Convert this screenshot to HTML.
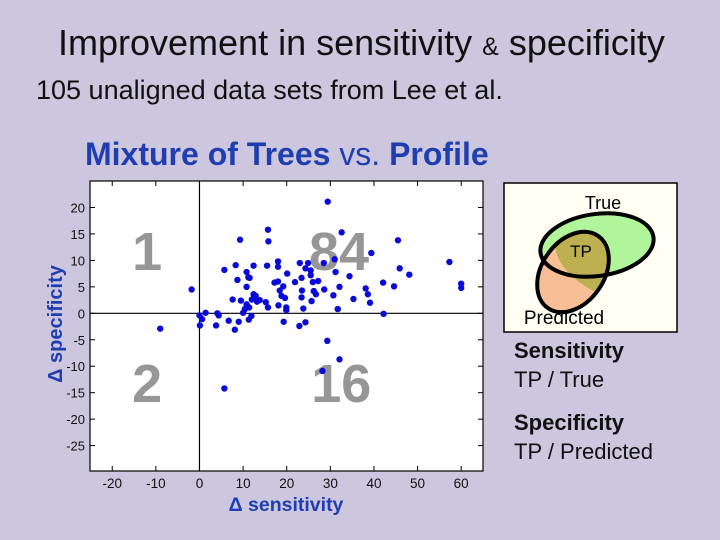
<!DOCTYPE html>
<html><head><meta charset="utf-8"><style>
body{margin:0;background:#cdc6df;}
#root{position:relative;width:720px;height:540px;background:#cdc6df;font-family:"Liberation Sans",sans-serif;overflow:hidden}
.t{position:absolute;white-space:nowrap}
</style></head><body>
<div id="root">
<div class="t" style="left:58px;top:22px;font-size:36px;color:#111">Improvement in sensitivity <span style="font-size:25px">&amp;</span> specificity</div>
<div class="t" style="left:36px;top:75px;font-size:27px;color:#111">105 unaligned data sets from Lee et al.</div>
<div class="t" style="left:85px;top:136px;font-size:32px;color:#1f3fb0;font-weight:bold">Mixture of Trees <span style="font-weight:normal">vs.</span> Profile</div>
<svg id="chart" width="720" height="540" style="position:absolute;left:0;top:0">
<g id="plot"></g>
<text transform="translate(62,324) rotate(-90)" text-anchor="middle" font-size="20" font-weight="bold" fill="#1f3fb0" font-family="Liberation Sans">Δ specificity</text>
<text x="286" y="511" text-anchor="middle" font-size="19.5" font-weight="bold" fill="#1f3fb0" font-family="Liberation Sans">Δ sensitivity</text>
</svg>
<svg width="720" height="540" style="position:absolute;left:0;top:0">
<defs><clipPath id="cp"><ellipse cx="597" cy="245" rx="57" ry="31" transform="rotate(-8 597 245)"/></clipPath></defs>
<rect x="504" y="183" width="173" height="149" fill="#fffff4" stroke="#000" stroke-width="1.5"/>
<ellipse cx="597" cy="245" rx="57" ry="31" transform="rotate(-8 597 245)" fill="#b0f59a"/>
<ellipse cx="573" cy="272" rx="31" ry="44" transform="rotate(35 573 272)" fill="#f8bf96"/>
<ellipse cx="573" cy="272" rx="31" ry="44" transform="rotate(35 573 272)" fill="#bdb050" clip-path="url(#cp)"/>
<ellipse cx="597" cy="245" rx="57" ry="31" transform="rotate(-8 597 245)" fill="none" stroke="#000" stroke-width="4"/>
<ellipse cx="573" cy="272" rx="31" ry="44" transform="rotate(35 573 272)" fill="none" stroke="#000" stroke-width="4"/>
<text x="603" y="209" text-anchor="middle" font-size="18" font-family="Liberation Sans">True</text>
<text x="581" y="257" text-anchor="middle" font-size="17" font-family="Liberation Sans">TP</text>
<text x="564" y="324" text-anchor="middle" font-size="19" font-family="Liberation Sans">Predicted</text>
</svg>
<div class="t" style="left:514px;top:336px;font-size:22px;line-height:29px;color:#111"><b>Sensitivity</b><br>TP / True</div>
<div class="t" style="left:514px;top:408px;font-size:22px;line-height:29px;color:#111"><b>Specificity</b><br>TP / Predicted</div>
</div>
<script>
const xTicks=[-20,-10,0,10,20,30,40,50,60];
const yTicks=[20,15,10,5,0,-5,-10,-15,-20,-25];
const quadLabels=["1","84","2","16"];
const quadX=[-12,32,-12,32.5];
const quadY=[12,12,-13,-13];
const sensX=[29.4,15.7,32.6,9.3,15.8,45.5,39.4,31,28.5,57.3,5.7,8.3,12.4,15.5,18,18,23,24.9,24.3,25.5,25.5,20.1,10.8,11.2,11.5,8.7,31.2,34.4,45.9,48.1,42.1,44.6,60,60,21.9,23.4,17.2,18,19.2,18.4,18.8,19.6,23.5,23.4,26,27.2,26.2,26.7,25.7,28.6,32.1,30.7,38.1,38.6,35.3,39.1,31.7,42.2,10.8,7.6,9.5,12.4,12,13.8,15.2,15.7,18.1,19.9,19.9,10.8,10.4,11.4,10,11.9,11.3,23.8,1.4,4.1,4.4,0,0.6,0.1,3.8,6.7,9,8.1,19.3,22.9,24.3,-9,-1.8,5.7,29.3,32.1,28.2,12.6,13.2,12.9];
const specY=[21.1,15.8,15.3,13.9,13.6,13.8,11.4,10.2,9.5,9.7,8.2,9.1,9,9,9.8,8.8,9.5,9.5,8.5,8.1,7.2,7.5,7.8,6.8,6.7,6.3,7.8,7,8.5,7.3,5.8,5.1,5.6,4.8,5.9,6.7,5.8,6,5.1,4.3,3.3,2.9,4.3,3,5.9,6.1,4.2,3.6,2.3,4.5,5,3.4,4.7,3.6,2.7,2,0.8,-0.1,5,2.6,2.4,3.6,2.6,2.5,2.1,1.1,1.5,1.1,0.6,1.7,0.8,1.1,0.1,-0.5,-1.2,0.9,0.1,0,-0.4,-0.4,-1.1,-2.3,-2.3,-1.4,-1.6,-3.1,-1.6,-2.4,-1.7,-2.9,4.5,-14.2,-5.2,-8.7,-10.9,3.0,2.2,3.3];
const X0=90,X1=483,Y0=181,Y1=471,xmin=-25.1,xmax=65,ymin=-29.8,ymax=25;
const sx=v=>X0+(v-xmin)/(xmax-xmin)*(X1-X0);
const sy=v=>Y1-(v-ymin)/(ymax-ymin)*(Y1-Y0);
const NS="http://www.w3.org/2000/svg";
const g=document.getElementById('plot');
function mk(t,a,p){const e=document.createElementNS(NS,t);for(const k in a)e.setAttribute(k,a[k]);(p||g).appendChild(e);return e;}
const bg=mk('rect',{x:X0,y:Y0,width:X1-X0,height:Y1-Y0,fill:'#fff',stroke:'#000','stroke-width':1.2});


xTicks.forEach(v=>{const x=sx(v);
mk('line',{x1:x,x2:x,y1:Y1,y2:Y1-5,stroke:'#000'});mk('line',{x1:x,x2:x,y1:Y0,y2:Y0+5,stroke:'#000'});
const t=mk('text',{x:x,y:Y1+17,'text-anchor':'middle','font-size':13.5,'font-family':'Liberation Sans',fill:'#111'});t.textContent=v;

});
yTicks.forEach(v=>{const y=sy(v);
mk('line',{x1:X0,x2:X0+5,y1:y,y2:y,stroke:'#000'});mk('line',{x1:X1,x2:X1-5,y1:y,y2:y,stroke:'#000'});
const t=mk('text',{x:X0-5,y:y+5,'text-anchor':'end','font-size':13,'font-family':'Liberation Sans',fill:'#111'});t.textContent=v;

});
const zx=mk('line',{x1:sx(0),x2:sx(0),y1:Y0,y2:Y1,stroke:'#000','stroke-width':1.2});


const zy=mk('line',{x1:X0,x2:X1,y1:sy(0),y2:sy(0),stroke:'#000','stroke-width':1.2});


quadLabels.forEach((s,i)=>{const t=mk('text',{x:sx(quadX[i]),y:sy(quadY[i])+20,'text-anchor':'middle','font-size':54,'font-weight':'bold','font-family':'Liberation Sans',fill:'#969696'});t.textContent=s;

});
sensX.forEach((v,i)=>{const c=mk('circle',{cx:sx(v),cy:sy(specY[i]),r:3.2,fill:'#0a0ad8'});

});
</script>
</body></html>
